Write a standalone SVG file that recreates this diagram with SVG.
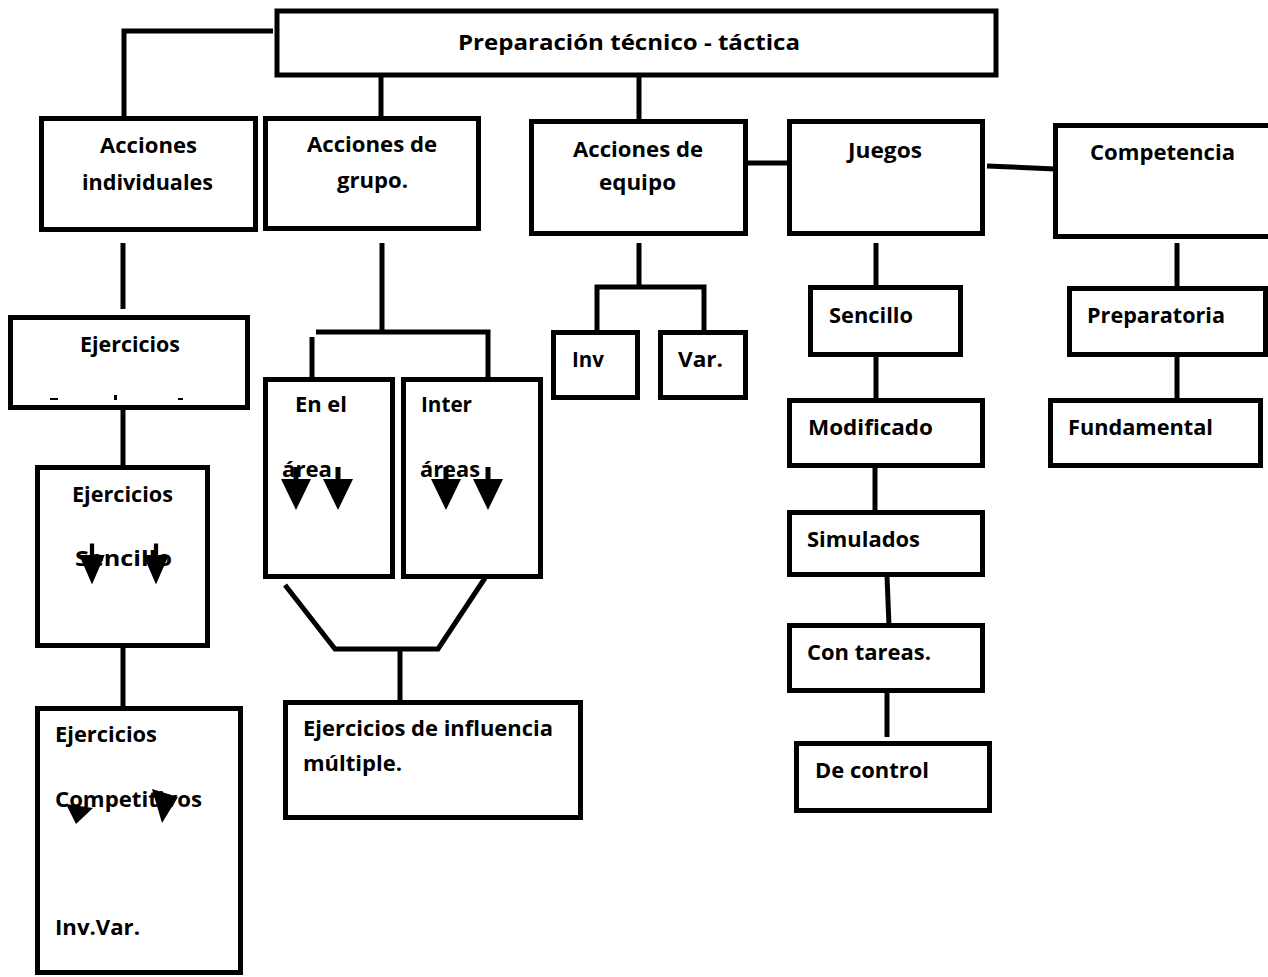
<svg xmlns="http://www.w3.org/2000/svg" width="1268" height="977" viewBox="0 0 1268 977">
<style>
.box{fill:#fff;stroke:#000;stroke-width:5}
.ln{fill:none;stroke:#000;stroke-width:5}
.t{font-family:"Open Sans","Liberation Sans",sans-serif;font-weight:bold;font-size:22px;fill:#000}
.c{text-anchor:middle}
.ah{fill:#000}
</style>
<defs>
<path id="darr" d="M-2.5,-12 H2.5 V0 H15 L0,31 L-15,0 H-2.5 Z"/>
</defs>
<rect width="1268" height="977" fill="#fff"/>

<g id="connectors">
<path class="ln" d="M273,31 H124 V120"/>
<path class="ln" d="M381,76 V119"/>
<path class="ln" d="M639,76 V122"/>
<path class="ln" d="M748,163 H796"/>
<path class="ln" d="M987,166 L1055,169"/>
<path class="ln" d="M123,243 V309"/>
<path class="ln" d="M123,408 V466"/>
<path class="ln" d="M123,647 V712"/>
<path class="ln" d="M382,243 V332"/>
<path class="ln" d="M316,332 H488 V378"/>
<path class="ln" d="M312,337 V378"/>
<path class="ln" d="M285,585 L335,649 H438 L487,575"/>
<path class="ln" d="M400,649 V703"/>
<path class="ln" d="M639,243 V287"/>
<path class="ln" d="M597,331 V287 H704 V331"/>
<path class="ln" d="M876,243 V289"/>
<path class="ln" d="M876,356 V401"/>
<path class="ln" d="M875,467 V513"/>
<path class="ln" d="M887,576 L889,626"/>
<path class="ln" d="M887,692 V737"/>
<path class="ln" d="M1177,243 V289"/>
<path class="ln" d="M1177,356 V401"/>
</g>

<g id="n-top">
<rect class="box" x="277" y="11" width="719" height="64"/>
<text class="t" x="458" y="50" textLength="342" lengthAdjust="spacingAndGlyphs">Preparación técnico - táctica</text>
</g>

<g id="n-individuales">
<rect class="box" x="41.5" y="118.5" width="214" height="111"/>
<text class="t" x="100" y="153" textLength="97" lengthAdjust="spacingAndGlyphs">Acciones</text>
<text class="t" x="82" y="190" textLength="131" lengthAdjust="spacingAndGlyphs">individuales</text>
</g>

<g id="n-grupo">
<rect class="box" x="265.5" y="118.5" width="213" height="110"/>
<text class="t" x="307" y="152" textLength="130" lengthAdjust="spacingAndGlyphs">Acciones de</text>
<text class="t" x="337" y="188" textLength="71" lengthAdjust="spacingAndGlyphs">grupo.</text>
</g>

<g id="n-equipo">
<rect class="box" x="531.5" y="121.5" width="214" height="112"/>
<text class="t" x="573" y="157" textLength="130" lengthAdjust="spacingAndGlyphs">Acciones de</text>
<text class="t" x="599" y="190" textLength="77" lengthAdjust="spacingAndGlyphs">equipo</text>
</g>

<g id="n-juegos">
<rect class="box" x="789.5" y="121.5" width="193" height="112"/>
<text class="t" x="848" y="158" textLength="74" lengthAdjust="spacingAndGlyphs">Juegos</text>
</g>

<g id="n-competencia">
<rect class="box" x="1055.5" y="125.5" width="230" height="111"/>
<text class="t" x="1090" y="160" textLength="145" lengthAdjust="spacingAndGlyphs">Competencia</text>
</g>

<g id="n-sencillo">
<rect class="box" x="810.5" y="287.5" width="150" height="67"/>
<text class="t" x="829" y="323" textLength="84" lengthAdjust="spacingAndGlyphs">Sencillo</text>
</g>

<g id="n-preparatoria">
<rect class="box" x="1069.5" y="288.5" width="196" height="66"/>
<text class="t" x="1087" y="323" textLength="138" lengthAdjust="spacingAndGlyphs">Preparatoria</text>
</g>

<g id="n-modificado">
<rect class="box" x="789.5" y="400.5" width="193" height="65"/>
<text class="t" x="808" y="435" textLength="125" lengthAdjust="spacingAndGlyphs">Modificado</text>
</g>

<g id="n-fundamental">
<rect class="box" x="1050.5" y="400.5" width="210" height="65"/>
<text class="t" x="1068" y="435" textLength="145" lengthAdjust="spacingAndGlyphs">Fundamental</text>
</g>

<g id="n-simulados">
<rect class="box" x="789.5" y="512.5" width="193" height="62"/>
<text class="t" x="807" y="547" textLength="113" lengthAdjust="spacingAndGlyphs">Simulados</text>
</g>

<g id="n-contareas">
<rect class="box" x="789.5" y="625.5" width="193" height="65"/>
<text class="t" x="807" y="660" textLength="124" lengthAdjust="spacingAndGlyphs">Con tareas.</text>
</g>

<g id="n-decontrol">
<rect class="box" x="796.5" y="743.5" width="193" height="67"/>
<text class="t" x="815" y="778" textLength="114" lengthAdjust="spacingAndGlyphs">De control</text>
</g>

<g id="n-inv">
<rect class="box" x="553.5" y="332.5" width="84" height="65"/>
<text class="t" x="572" y="367" textLength="32" lengthAdjust="spacingAndGlyphs">Inv</text>
</g>

<g id="n-var">
<rect class="box" x="660.5" y="332.5" width="85" height="65"/>
<text class="t" x="678" y="367" textLength="45" lengthAdjust="spacingAndGlyphs">Var.</text>
</g>

<g id="n-enel">
<rect class="box" x="265.5" y="379.5" width="127" height="197"/>
<text class="t" x="295" y="412" textLength="52" lengthAdjust="spacingAndGlyphs">En el</text>
<text class="t" x="282" y="477" textLength="50" lengthAdjust="spacingAndGlyphs">área</text>
<use href="#darr" class="ah" x="296" y="479"/>
<use href="#darr" class="ah" x="338" y="479"/>
</g>

<g id="n-inter">
<rect class="box" x="403.5" y="379.5" width="137" height="197"/>
<text class="t" x="421" y="412" textLength="51" lengthAdjust="spacingAndGlyphs">Inter</text>
<text class="t" x="420" y="477" textLength="60" lengthAdjust="spacingAndGlyphs">áreas</text>
<use href="#darr" class="ah" x="446" y="479"/>
<use href="#darr" class="ah" x="488" y="479"/>
</g>

<g id="n-influencia">
<rect class="box" x="285.5" y="702.5" width="295" height="115"/>
<text class="t" x="303" y="736" textLength="250" lengthAdjust="spacingAndGlyphs">Ejercicios de influencia</text>
<text class="t" x="303" y="771" textLength="99" lengthAdjust="spacingAndGlyphs">múltiple.</text>
</g>

<g id="n-ejercicios">
<rect class="box" x="10.5" y="317.5" width="237" height="90"/>
<text class="t" x="80" y="352" textLength="100" lengthAdjust="spacingAndGlyphs">Ejercicios</text>
<rect x="50" y="398" width="8" height="2" fill="#000"/>
<rect x="114" y="395" width="3" height="5" fill="#000"/>
<rect x="178" y="398" width="5" height="2" fill="#000"/>
</g>

<g id="n-ejsencillo">
<rect class="box" x="37.5" y="467.5" width="170" height="178"/>
<text class="t" x="72" y="502" textLength="101" lengthAdjust="spacingAndGlyphs">Ejercicios</text>
<text class="t" x="75" y="566" textLength="97" lengthAdjust="spacingAndGlyphs">Sencillo</text>
<use href="#darr" class="ah" transform="translate(92,555) scale(0.85,0.95)"/>
<use href="#darr" class="ah" transform="translate(156,555) scale(0.85,0.95)"/>
</g>

<g id="n-ejcompetitivos">
<rect class="box" x="37.5" y="708.5" width="203" height="264"/>
<text class="t" x="55" y="742" textLength="102" lengthAdjust="spacingAndGlyphs">Ejercicios</text>
<text class="t" x="55" y="807" textLength="147" lengthAdjust="spacingAndGlyphs">Competitivos</text>
<text class="t" x="55" y="935" textLength="85" lengthAdjust="spacingAndGlyphs">Inv.Var.</text>
<polygon class="ah" points="66,804 93,808 76,824"/>
<polygon class="ah" points="152,789 178,797 162,823"/>
</g>
</svg>
